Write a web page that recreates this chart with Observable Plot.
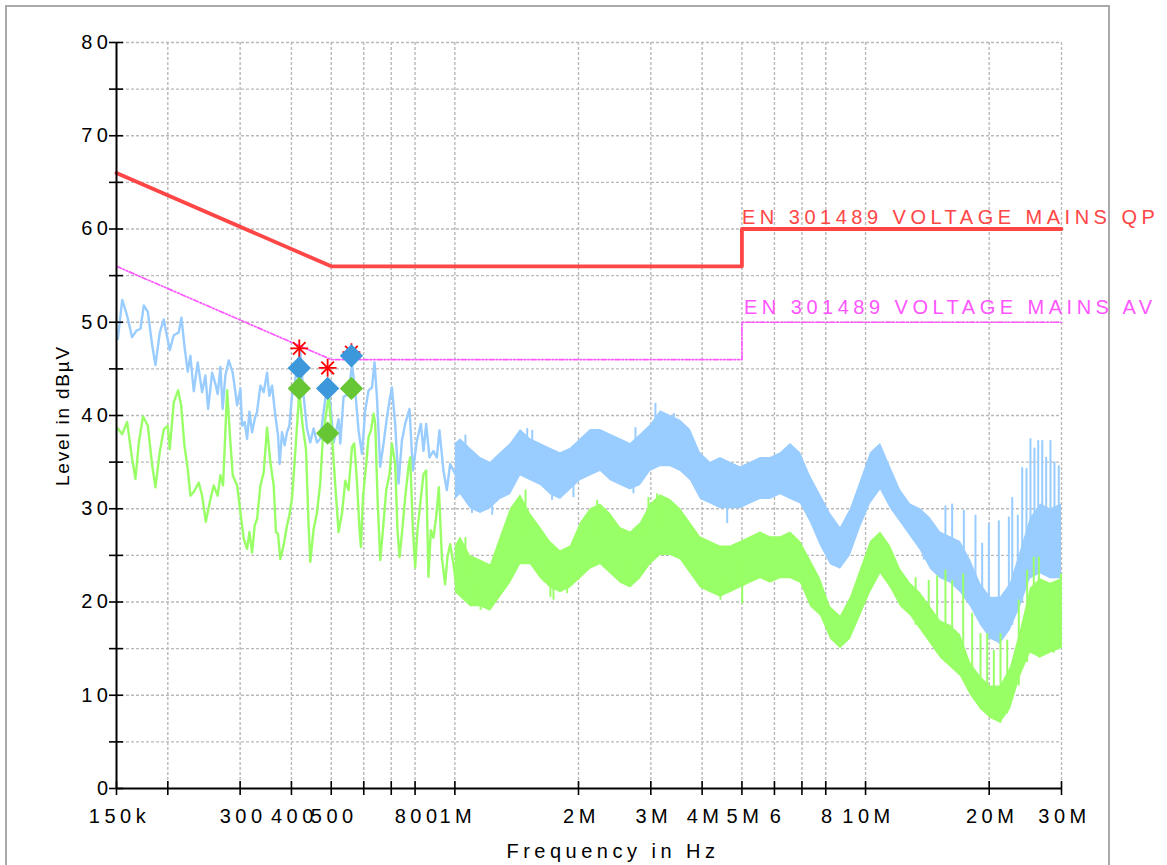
<!DOCTYPE html>
<html><head><meta charset="utf-8">
<script src="https://cdn.jsdelivr.net/npm/d3@7"></script>
<script src="https://cdn.jsdelivr.net/npm/@observablehq/plot@0.6"></script>
<style>
html,body{margin:0;padding:0;background:#fff;}
#frame{position:absolute;left:5px;top:5px;width:1101px;height:900px;border:2px solid #aaaaaa;}
#chart{position:absolute;left:0;top:0;}
#chart text{letter-spacing:4.5px;}
#chart text[transform*="rotate"]{letter-spacing:1.8px;}
</style></head><body><div id="frame"></div><div id="chart"></div>
<script>
// ---- axis ticks ----
const xTickValues = [150e3,200e3,300e3,400e3,500e3,600e3,700e3,800e3,1e6,2e6,3e6,4e6,5e6,6e6,7e6,8e6,10e6,20e6,30e6];
const xTickLabels = ["150k","","300","400","500","","","800","1M","2M","3M","4M","5M","6","","8","10M","20M","30M"];
const yTickValues = [0,5,10,15,20,25,30,35,40,45,50,55,60,65,70,75,80];
const yLabelValues = [0,10,20,30,40,50,60,70,80];

// ---- limit lines (EN 301489 voltage mains) ----
const limitFreq = [150e3, 500e3, 5e6, 5e6, 30e6];
const limitQP = [66, 56, 56, 60, 60];
const limitAV = [56, 46, 46, 50, 50];
const limitNames = ["EN 301489 VOLTAGE MAINS QP", "EN 301489 VOLTAGE MAINS AV"];
const limitLabelFreq = 5e6;

// ---- low-frequency traces (kHz, dBµV) ----
const blueLowFreqK = [151.1,154.9,159.2,163.7,167.8,171.6,174.8,178.8,183.3,186.6,191.2,195.5,202.2,206.8,212.6,215.9,219.5,223.6,227.0,231.3,236.5,242.4,246.9,250.7,256.4,261.1,264.5,268.6,272.0,276.2,281.4,287.8,295.0,300.5,303.3,307.8,311.9,316.0,320.8,325.5,329.9,336.1,342.4,348.9,353.4,358.8,365.5,371.0,374.4,379.4,385.0,390.2,395.3,401.3,407.2,412.7,420.4,428.3,436.4,444.6,452.9,461.6,470.2,479.1,488.2,497.3,506.7,521.0,526.0,535.8,551.0,561.6,571.9,582.7,593.9,604.8,616.4,628.2,637.4,645.9,658.0,670.4,683.2,693.3,702.6,715.5,729.1,743.1,756.8,775.4,790.4,808.2,826.4,838.7,851.3,867.3,887.0,903.8,917.2,938.0,955.9,973.8,992.1,1011];
const blueLowLevel = [48.2,52.4,50.7,48.4,49.1,49.3,51.8,51.1,47.5,45.4,48.9,50.3,47.0,48.6,48.9,50.5,47.5,44.7,46.4,42.6,45.7,42.5,44.3,40.7,44.6,43.4,42.3,45.2,40.7,44.3,45.9,44.6,41.1,42.9,38.9,39.3,37.5,40.4,38.2,39.6,40.4,43.2,42.5,44.6,42.1,43.2,40.0,37.9,34.8,38.2,36.8,38.2,38.9,42.1,43.2,45.4,46.8,42.1,38.6,37.1,38.6,37.1,37.5,40.4,43.2,41.4,37.1,39.6,37.0,42.0,42.3,45.5,42.7,38.4,35.9,40.5,42.7,43.0,45.7,42.0,34.5,37.0,39.8,41.6,43.0,39.1,32.7,37.3,39.1,40.7,34.1,37.3,39.1,36.2,39.1,35.5,36.2,35.5,38.4,34.1,32.0,34.8,34.1,33.4];
const greenLowFreqK = [151.1,154.9,159.2,163.7,166.8,170.0,174.1,178.8,183.3,186.6,191.2,195.5,199.9,202.2,206.8,211.9,215.5,219.5,223.6,227.0,231.3,237.9,242.4,247.5,253.0,258.7,264.5,268.6,272.6,278.9,284.1,287.8,295.0,300.5,306.1,311.9,316.0,320.8,325.5,329.9,336.1,342.4,348.9,355.4,362.1,366.8,371.0,375.8,382.9,390.2,395.3,401.3,407.2,412.7,418.1,425.9,434.0,440.4,444.6,452.9,461.6,470.2,476.3,483.6,492.7,502.1,511.5,521.0,531.0,541.0,551.0,561.6,568.9,577.4,586.0,590.6,597.3,608.4,616.4,624.8,633.9,639.9,648.1,658.0,668.0,680.5,693.3,702.6,715.5,725.0,733.2,743.1,756.8,771.1,778.4,790.4,800.5,810.9,823.3,838.7,851.3,862.5,874.0,887.0,900.3,914.0,929.6,946.7,959.2,973.8,992.1,1011];
const greenLowLevel = [38.6,38.0,39.3,35.4,33.2,37.1,39.9,38.9,34.6,32.3,36.1,38.5,38.9,36.4,41.4,42.7,41.1,36.8,34.3,31.4,31.8,32.8,31.4,28.6,30.7,32.5,31.4,33.6,32.5,42.7,37.1,33.6,32.5,29.6,26.8,25.7,27.5,25.3,28.2,28.9,32.5,33.9,38.7,35.0,32.5,27.5,27.3,24.6,26.1,28.2,29.3,31.1,35.0,38.9,42.5,38.9,36.4,28.2,24.3,27.8,29.6,32.8,37.1,39.6,42.1,37.9,32.5,27.5,29.5,33.0,32.0,36.6,37.0,33.0,27.7,25.9,31.2,34.8,37.7,38.4,40.2,39.1,31.2,24.5,27.7,32.0,33.7,37.0,34.8,27.7,24.8,27.3,31.2,34.5,35.5,27.7,23.7,27.7,30.5,33.7,34.1,22.7,27.7,26.9,29.1,32.3,24.8,21.9,24.8,26.2,24.1,21.2];

// ---- dense region envelopes (MHz, dBµV) ----
const bandFreqM = [1.003,1.032,1.091,1.155,1.221,1.291,1.366,1.445,1.528,1.617,1.709,1.808,1.912,2.023,2.139,2.263,2.393,2.531,2.677,2.832,2.994,3.168,3.350,3.543,3.747,3.963,4.192,4.434,4.689,4.960,5.246,5.549,5.869,6.207,6.565,6.944,7.345,7.768,8.217,8.691,9.192,9.723,10.28,10.88,11.50,12.17,12.87,13.61,14.39,15.22,16.10,17.03,18.01,19.05,20.15,21.31,22.54,23.84,25.21,26.67,28.20,30.0];
const blueHi = [37.0,37.5,36.5,35.5,35.0,36.0,37.0,38.5,37.5,37.0,36.5,36.0,36.5,37.5,38.5,38.5,38.0,37.5,37.0,38.0,39.0,40.5,40.0,39.5,38.5,36.0,35.0,35.5,35.0,34.5,35.0,35.5,35.5,36.0,37.0,36.0,33.5,31.5,29.5,28.0,30.0,33.0,36.0,37.0,34.5,32.0,30.5,30.0,29.0,27.5,27.0,26.5,24.5,22.0,20.5,20.5,22.0,25.5,29.0,30.5,30.0,30.5];
const blueLo = [31.0,31.5,30.0,29.5,30.0,31.0,31.5,33.5,33.0,32.5,31.5,31.0,32.0,33.0,33.5,34.0,33.0,32.5,32.0,32.5,34.0,34.5,34.5,34.0,33.0,31.0,30.5,30.0,30.0,30.0,30.5,31.0,31.0,31.5,31.0,30.5,28.5,26.0,24.0,23.5,25.0,28.0,30.5,32.0,30.0,28.5,27.0,25.5,23.5,22.5,22.0,21.0,19.5,17.5,16.0,15.5,17.0,19.5,22.5,23.0,22.5,22.5];
const greenHi = [26.0,27.0,25.0,24.5,24.0,27.0,30.0,31.5,29.5,28.0,26.5,25.5,26.0,28.5,30.0,30.5,29.5,28.0,27.5,28.5,30.5,31.5,31.0,30.0,28.5,27.0,26.5,26.0,26.0,26.5,27.0,27.5,27.0,27.0,27.5,26.5,24.5,22.5,19.5,18.5,20.5,23.5,26.5,27.5,26.0,23.5,22.0,21.0,19.5,18.0,17.5,16.5,13.5,12.0,11.0,11.0,13.0,17.0,21.5,22.5,22.0,22.5];
const greenLo = [21.0,20.5,19.5,19.5,19.0,20.5,22.0,24.0,24.0,22.5,21.5,21.0,21.5,22.5,23.5,24.0,23.0,22.0,21.5,22.5,24.0,25.0,25.0,24.5,23.0,21.5,21.0,20.5,21.0,21.5,22.0,22.5,22.0,22.5,22.5,22.0,19.5,18.5,16.0,15.0,16.0,18.5,21.0,23.0,21.5,19.5,18.5,17.0,15.5,14.0,13.0,12.0,10.0,8.5,7.5,7.0,8.5,12.0,14.5,14.0,14.5,15.0];

// ---- isolated spikes (MHz, spike end, band end) ----
const blueSpikeFreqM = [1.061,1.101,1.233,1.500,1.543,1.725,1.944,2.722,2.753,3.079,3.413,4.604,13.86,14.66,15.65,16.25,17.35,18.52,19.23,19.96,21.11,22.33,22.76,23.48,24.07,24.65,25.21,25.78,26.33,26.93,27.53,28.20,28.84,29.54];
const blueSpikeHi = [37.9,29.5,29.3,38.6,38.4,30.9,31.2,31.6,38.7,41.3,40.2,28.4,29.3,28.0,30.3,30.5,29.8,29.3,26.3,28.4,28.7,29.1,31.2,29.3,34.4,34.3,37.5,36.5,37.3,37.3,35.5,37.3,35.0,34.6];
const blueSpikeLo = [33.0,33.0,32.5,35.0,35.0,34.0,34.0,35.0,35.0,37.0,37.0,32.0,24.5,23.5,22.5,22.0,21.0,18.5,17.5,16.0,15.5,17.0,17.5,19.0,20.0,21.5,22.5,23.0,23.0,23.0,23.0,22.5,22.5,22.5];
const greenSpikeFreqM = [1.061,1.155,1.486,1.709,1.738,1.877,2.221,2.677,2.961,3.109,4.434,5.008,13.24,13.86,14.25,14.94,15.65,16.25,17.29,18.18,19.05,19.78,20.53,21.31,22.13,23.61,24.75,25.68,26.42,27.68,28.73,29.9];
const greenSpikeHi = [26.9,19.1,32.0,20.5,20.2,20.9,30.9,22.0,31.2,31.6,20.2,19.8,22.6,19.8,22.3,22.8,23.4,22.3,23.0,18.8,16.6,16.6,14.8,16.6,15.9,20.2,23.4,24.8,24.8,22.0,21.6,23.0];
const greenSpikeLo = [23.0,22.0,27.0,24.0,24.0,23.5,27.0,24.5,27.0,28.0,23.0,24.0,17.5,16.5,16.0,14.5,13.5,13.0,12.0,10.0,8.5,8.0,7.5,7.0,8.0,11.0,13.5,14.5,14.0,14.5,14.5,15.0];

// ---- final measurement markers (kHz, dBµV) ----
const markerFreqK = [418, 490, 560];
const asteriskLevel = [47.2, 45.1, 46.8];
const peakLevel = [45.1, 42.9, 46.4];
const avgLevel = [42.9, 38.1, 42.9];

// ---- tables ----
const blueLow = blueLowFreqK.map((f,i) => ({f: f*1e3, v: blueLowLevel[i]}));
const greenLow = greenLowFreqK.map((f,i) => ({f: f*1e3, v: greenLowLevel[i]}));
const band = bandFreqM.map((f,i) => ({f: f*1e6, bh: blueHi[i], bl: blueLo[i], gh: greenHi[i], gl: greenLo[i]}));
const blueSpikes = blueSpikeFreqM.map((f,i) => ({f: f*1e6, hi: blueSpikeHi[i], lo: blueSpikeLo[i]}));
const greenSpikes = greenSpikeFreqM.map((f,i) => ({f: f*1e6, hi: greenSpikeHi[i], lo: greenSpikeLo[i]}));
const limits = limitFreq.map((f,i) => ({f, qp: limitQP[i], av: limitAV[i]}));
const markers = markerFreqK.map((f,i) => ({f: f*1e3, a: asteriskLevel[i], p: peakLevel[i], g: avgLevel[i]}));
const xLabelMap = new Map(xTickValues.map((v,i) => [v, xTickLabels[i]]));

const BLUE = "#99ccff", GREEN = "#99ff66", RED = "#ff4646", MAG = "#ff55ff";
const GRID = {stroke: "#b9b9b9", strokeOpacity: 1, strokeDasharray: "3,2", strokeWidth: 1.4};

const chart = Plot.plot({
  width: 1167, height: 865,
  marginLeft: 116, marginRight: 106, marginTop: 42, marginBottom: 77,
  x: {type: "log", domain: [xTickValues[0], xTickValues[xTickValues.length-1]]},
  y: {domain: [yTickValues[0], yTickValues[yTickValues.length-1]]},
  style: {fontFamily: "'Liberation Sans', Arial, sans-serif", fontSize: "20px", background: "transparent", color: "black"},
  marks: [
    Plot.gridX(xTickValues.slice(1), GRID),
    Plot.gridY(yTickValues.slice(1), GRID),
    // peak (blue) trace
    Plot.line(blueLow, {x: "f", y: "v", stroke: BLUE, strokeWidth: 2.4}),
    Plot.areaY(band, {x: "f", y1: "bl", y2: "bh", fill: BLUE}),
    Plot.ruleX(blueSpikes, {x: "f", y1: "lo", y2: "hi", stroke: BLUE, strokeWidth: 2}),
    // average (green) trace
    Plot.line(greenLow, {x: "f", y: "v", stroke: GREEN, strokeWidth: 2.4}),
    Plot.areaY(band, {x: "f", y1: "gl", y2: "gh", fill: GREEN}),
    Plot.ruleX(greenSpikes, {x: "f", y1: "lo", y2: "hi", stroke: GREEN, strokeWidth: 2}),
    // limits
    Plot.line(limits, {x: "f", y: "av", stroke: MAG, strokeWidth: 1.7, strokeDasharray: "5,2,1.5,2,1.5,2"}),
    Plot.line(limits, {x: "f", y: "qp", stroke: RED, strokeWidth: 3.8}),
    Plot.text([limitNames[0]], {x: () => limitLabelFreq, y: () => limitQP[limitQP.length-1], text: d => d, fill: RED, textAnchor: "start", lineAnchor: "bottom", dy: -5, fontSize: 20}),
    Plot.text([limitNames[1]], {x: () => limitLabelFreq, y: () => limitAV[limitAV.length-1], text: d => d, fill: MAG, textAnchor: "start", lineAnchor: "bottom", dy: -8, dx: 2, fontSize: 20}),
    // axes
    Plot.ruleX([xTickValues[0]], {stroke: "black", strokeWidth: 2}),
    Plot.ruleY([yTickValues[0]], {stroke: "black", strokeWidth: 2}),
    Plot.axisX({ticks: xTickValues, tickSize: 14, dy: -7, fill: "none", stroke: "black", strokeWidth: 1.6, label: null}),
    Plot.text(xTickValues.filter(v => xLabelMap.get(v)), {x: d => d, text: d => xLabelMap.get(d), frameAnchor: "bottom", lineAnchor: "top", dy: 20, dx: 3, fontSize: 20, fill: "black"}),
    Plot.axisY({ticks: yTickValues, tickSize: 14, dx: 7, fill: "none", stroke: "black", strokeWidth: 1.6, label: null}),
    Plot.axisY({ticks: yLabelValues, tickSize: 0, tickPadding: 4, tickFormat: v => String(v), fill: "black", label: null}),
    Plot.text(["Frequency in Hz"], {frameAnchor: "bottom", lineAnchor: "bottom", dy: 69, dx: 24, text: d => d, fontSize: 20}),
    Plot.text(["Level in dBµV"], {frameAnchor: "left", textAnchor: "middle", dx: -54, rotate: -90, text: d => d, fontSize: 19}),
    // markers
    Plot.dot(markers, {x: "f", y: "a", symbol: "plus", r: 5.8, stroke: "#ff0000", strokeWidth: 1.8}),
    Plot.dot(markers, {x: "f", y: "a", symbol: "times", r: 5.8, stroke: "#ff0000", strokeWidth: 1.8}),
    Plot.dot(markers, {x: "f", y: "p", symbol: "diamond2", r: 10.5, fill: "#3d97db", stroke: "none"}),
    Plot.dot(markers, {x: "f", y: "g", symbol: "diamond2", r: 10.5, fill: "#66c633", stroke: "none"})
  ]
});
document.getElementById("chart").appendChild(chart);
</script></body></html>
